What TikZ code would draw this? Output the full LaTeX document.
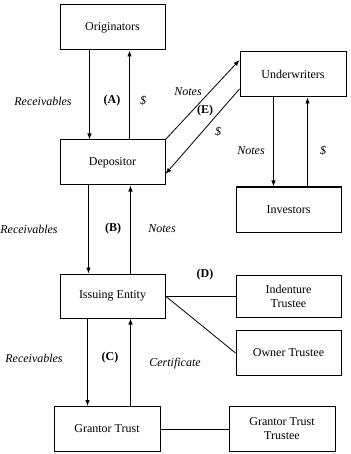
\documentclass[tikz,border=0pt]{standalone}
\usepackage{fontspec}
\setmainfont{Liberation Serif}
\usetikzlibrary{arrows.meta}
\tikzset{
  box/.style={draw, line width=1pt, minimum width=105pt, minimum height=45pt, inner sep=0pt, align=center, font=\fontsize{12}{14}\selectfont},
  arr/.style={line width=0.8pt, -{Latex[length=6pt,width=4.5pt]}},
  conn/.style={line width=0.8pt},
  lbl/.style={font=\fontsize{12}{14}\selectfont\itshape, inner sep=0pt},
  tag/.style={font=\fontsize{12}{14}\selectfont\bfseries, inner sep=0pt}
}
\begin{document}
\begin{tikzpicture}[x=1pt,y=-1pt]
\useasboundingbox (0,0) rectangle (350,454);
\node[box] (orig) at (112.5,27.5) {Originators};
\node[box, minimum width=106pt] (under) at (293,74.5) {Underwriters};
\node[box] (dep) at (112.5,162.5) {Depositor};
\node[box] (inv) at (288.5,209.5) {Investors};
\node[box, minimum height=44pt] (issue) at (112.5,296) {Issuing Entity};
\node[box, minimum height=42pt] (ind) at (288.5,296.5) {Indenture\\Trustee};
\node[box] (owner) at (288.5,353) {Owner Trustee};
\node[box, minimum width=106pt] (gt) at (107,429) {Grantor Trust};
\node[box, minimum width=106pt] (gtt) at (282,429) {Grantor Trust\\Trustee};

% (A)
\draw[arr] ([xshift=30pt]orig.south west) -- ([xshift=30pt]orig.south west |- dep.north);
\draw[arr] ([xshift=70pt]dep.north west) -- ([xshift=70pt]dep.north west |- orig.south);
% (E)
\draw[arr] (dep.north east) -- ([yshift=14.5pt]under.west);
\draw[arr] ([yshift=-14.5pt]under.west) -- ([yshift=-11.5pt]dep.east);
% Underwriters / Investors
\draw[arr] ([xshift=34pt]under.south west) -- ([xshift=34pt]under.south west |- inv.north);
\draw[arr] ([xshift=68pt]under.south west |- inv.north) -- ([xshift=68pt]under.south west);
% (B)
\draw[arr] ([xshift=29pt]dep.south west) -- ([xshift=29pt]dep.south west |- issue.north);
\draw[arr] ([xshift=71pt]issue.north west) -- ([xshift=71pt]issue.north west |- dep.south);
% (D)
\draw[conn] (issue.east) -- (issue.east -| ind.west);
\draw[conn] (issue.east) -- (owner.west);
% (C)
\draw[arr] ([xshift=28pt]issue.south west) -- ([xshift=28pt]issue.south west |- gt.north);
\draw[arr] ([xshift=71pt]issue.south west |- gt.north) -- ([xshift=71pt]issue.south west);
% Grantor trust trustee
\draw[conn] (gt.east) -- (gtt.west);

% labels
\node[lbl] (lA1) at (43,101) {Receivables};
\node[tag] (tA) at (112,101) {(A)};
\node[lbl] (lA2) at (143,101) {\$};
\node[lbl] (lE1) at (188,92) {Notes};
\node[tag] (tE) at (205,111) {(E)};
\node[lbl] (lE2) at (218,132) {\$};
\node[lbl] (lU1) at (251,151) {Notes};
\node[lbl] (lU2) at (323,151) {\$};
\node[lbl] (lB1) at (29,229) {Receivables};
\node[tag] (tB) at (113,229) {(B)};
\node[lbl] (lB2) at (162,229) {Notes};
\node[tag] (tD) at (205,275) {(D)};
\node[lbl] (lC1) at (34,358) {Receivables};
\node[tag] (tC) at (110,358) {(C)};
\node[lbl] (lC2) at (175,364) {Certificate};
\end{tikzpicture}
\end{document}
